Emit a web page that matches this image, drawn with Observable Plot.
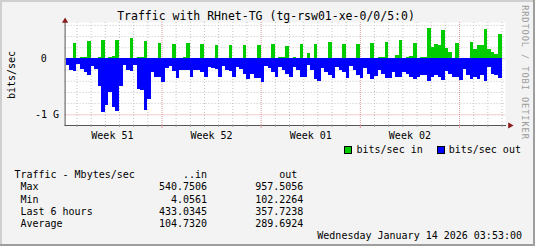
<!DOCTYPE html>
<html><head><meta charset="utf-8">
<script src="https://cdn.jsdelivr.net/npm/d3@7"></script>
<script src="https://cdn.jsdelivr.net/npm/@observablehq/plot@0.6"></script>
<style>
body{margin:0;background:#F3F3F3;}
#chart{position:relative;width:535px;height:246px;background:#F3F3F3;overflow:hidden;font-family:"DejaVu Sans Mono",monospace;font-size:10px;color:#000;box-sizing:border-box;}
#chart svg{position:absolute;left:0;top:0;overflow:visible;}
.t{position:absolute;white-space:pre;line-height:10px;}
.b{position:absolute;}
</style></head><body>
<div id="chart"></div>
<script>
// ---- texts ----
const title = "Traffic with RHnet-TG (tg-rsw01-xe-0/0/5:0)";
const yAxisLabel = "bits/sec";
const watermark = "RRDTOOL / TOBI OETIKER";
const dateLine = "Wednesday January 14 2026 03:53:00";

// ---- time ----
const viewStart = Date.UTC(2025, 11, 14, 3, 53);
const viewEnd = Date.UTC(2026, 0, 14, 3, 53);
const firstStep = Date.UTC(2025, 11, 14, 6);
const stepHours = 6;

// ---- series (Gbit/s, one value per 6 hours) ----
const inValues = [
0.015,0.015,0.28,0.015, 0.025,0.025,0.31,0.015, 0.015,0.025,0.33,0.015, 0.025,0.04,0.33,0.015,
0.015,0.015,0.37,0.015, 0.025,0.025,0.31,0.015, 0.015,0.015,0.28,0.015, 0.015,0.015,0.26,0.015,
0.015,0.03,0.28,0.015, 0.015,0.015,0.26,0.015, 0.015,0.015,0.24,0.015, 0.015,0.015,0.24,0.015,
0.015,0.015,0.24,0.015, 0.015,0.015,0.24,0.015, 0.015,0.015,0.26,0.015, 0.025,0.025,0.23,0.015,
0.03,0.015,0.26,0.015, 0.09,0.015,0.26,0.015, 0.015,0.015,0.3,0.015, 0.015,0.015,0.26,0.015,
0.015,0.015,0.26,0.015, 0.015,0.015,0.28,0.015, 0.025,0.025,0.3,0.015, 0.015,0.06,0.33,0.015,
0.025,0.04,0.28,0.015, 0.025,0.025,0.54,0.2, 0.26,0.24,0.51,0.19, 0.11,0.015,0.28,0.015,
0.015,0.015,0.29,0.17, 0.24,0.24,0.52,0.17, 0.12,0.08,0.433
];
const outValues = [
0.11,0.2,0.22,0.10, 0.19,0.24,0.3,0.14, 0.19,0.49,0.957,0.84, 0.61,0.87,0.95,0.49,
0.12,0.21,0.22,0.12, 0.54,0.57,0.93,0.72, 0.25,0.33,0.33,0.42, 0.18,0.13,0.22,0.35,
0.21,0.21,0.21,0.33, 0.21,0.21,0.25,0.33, 0.16,0.18,0.19,0.33, 0.14,0.21,0.23,0.33,
0.15,0.19,0.28,0.36, 0.27,0.35,0.35,0.42, 0.14,0.18,0.24,0.33, 0.16,0.2,0.28,0.33,
0.15,0.21,0.33,0.33, 0.12,0.21,0.37,0.40, 0.18,0.25,0.3,0.35, 0.15,0.21,0.25,0.35,
0.14,0.21,0.3,0.35, 0.18,0.27,0.36,0.31, 0.2,0.27,0.35,0.35, 0.25,0.33,0.34,0.24,
0.27,0.33,0.36,0.33, 0.29,0.29,0.40,0.34, 0.29,0.33,0.38,0.23, 0.27,0.33,0.34,0.38,
0.19,0.29,0.36,0.33, 0.36,0.29,0.40,0.15, 0.27,0.3,0.358
];

// ---- axes ----
const weekTickDates = [Date.UTC(2025,11,17,12), Date.UTC(2025,11,24,12), Date.UTC(2025,11,31,12), Date.UTC(2026,0,7,12)];
const weekLabels = ["Week 51", "Week 52", "Week 01", "Week 02"];
const yTickValues = [-1, 0];
const yTickLabels = ["-1 G", "0"];

// ---- legend & stats ----
const legendLabels = ["bits/sec in", "bits/sec out"];
const seriesColors = ["#00CC00", "#0000FF"];
const statsHeader = ["Traffic - Mbytes/sec", "..in", "out"];
const statLabels = ["Max", "Min", "Last 6 hours", "Average"];
const statIn = ["540.7506", "4.0561", "433.0345", "104.7320"];
const statOut = ["957.5056", "102.2264", "357.7238", "289.6924"];

// ---- build ----
const H = 3600e3;
const bars = inValues.map((v, i) => ({
  t0: new Date(firstStep + i * stepHours * H),
  t1: new Date(firstStep + (i + 1) * stepHours * H),
  vin: v,
  vout: -outValues[i]
}));
const allDays = d3.utcDay.range(new Date(viewStart), new Date(viewEnd));
const majorDays = allDays.filter(d => d.getUTCDay() === 0);
const minorDays = allDays.filter(d => d.getUTCDay() !== 0);
const gridY = d3.range(-5, 4).map(k => k * 0.2);
const majorY = gridY.filter(v => Math.abs(v) < 1e-9 || Math.abs(v + 1) < 1e-9);
const minorY = gridY.filter(v => !majorY.includes(v));
const weekMap = new Map(weekTickDates.map((t, i) => [t, weekLabels[i]]));
const yMap = new Map(yTickValues.map((v, i) => [v, yTickLabels[i]]));
const minorColor = "#c2c2c2", majorColor = "#e39a9a", arrowColor = "#8b1c1c";

const plot = Plot.plot({
  width: 535, height: 246,
  marginLeft: 64.6, marginRight: 30, marginTop: 22, marginBottom: 121,
  style: {background: "transparent", fontFamily: "DejaVu Sans Mono", fontSize: "10px", color: "#000"},
  x: {type: "utc", domain: [new Date(viewStart), new Date(Date.UTC(2026, 0, 14, 5, 53))]},
  y: {domain: [-1.192, 0.652]},
  marks: [
    Plot.frame({fill: "white", stroke: "none"}),
    Plot.ruleY(minorY, {stroke: minorColor, strokeDasharray: "1,2"}),
    Plot.ruleX(minorDays, {stroke: minorColor, strokeDasharray: "1,2"}),
    Plot.ruleY(majorY, {stroke: majorColor, strokeDasharray: "1,1"}),
    Plot.ruleX(majorDays, {stroke: majorColor, strokeDasharray: "1,1"}),
    Plot.rect(bars, {x1: "t0", x2: "t1", y1: 0, y2: "vin", fill: seriesColors[0], shapeRendering: "crispEdges"}),
    Plot.rect(bars, {x1: "t0", x2: "t1", y1: 0, y2: "vout", fill: seriesColors[1], shapeRendering: "crispEdges"}),
    Plot.frame({anchor: "left", stroke: "#555"}),
    Plot.frame({anchor: "bottom", stroke: "#555"}),
    Plot.axisX(majorDays, {tickSize: 3, stroke: majorColor, tickFormat: () => ""}),
    Plot.axisX(minorDays, {tickSize: 2, stroke: "#999", tickFormat: () => ""}),
    Plot.axisX(weekTickDates.map(t => new Date(t)), {tickSize: 0, tickPadding: 6, tickFormat: d => weekMap.get(+d), fontSize: 10, fill: "#000"}),
    Plot.axisY([yTickValues[0]], {tickSize: 0, tickPadding: 6, tickFormat: d => yMap.get(d), fontSize: 10, fill: "#000"}),
    Plot.axisY([yTickValues[1]], {tickSize: 0, tickPadding: 18.4, tickFormat: d => yMap.get(d), fontSize: 10, fill: "#000"}),
    Plot.dot([0], {frameAnchor: "top-left", symbol: "triangle", r: 2.3, fill: arrowColor, stroke: "none", dy: -1.5}),
    Plot.dot([0], {frameAnchor: "bottom-right", symbol: "triangle", r: 2.3, fill: arrowColor, stroke: "none", rotate: 90, dx: 4.5})
  ]
});

const chart = document.getElementById("chart");
chart.appendChild(plot);

function addText(txt, css) {
  const d = document.createElement("div");
  d.className = "t";
  d.textContent = txt;
  Object.assign(d.style, css);
  chart.appendChild(d);
  return d;
}
function addBox(css) {
  const d = document.createElement("div");
  d.className = "b";
  Object.assign(d.style, css);
  chart.appendChild(d);
}

// title
addText(title, {left: "0px", width: "532px", textAlign: "center", top: "11px", fontSize: "11.5px", lineHeight: "11.5px"});
// y label
addText(yAxisLabel, {left: "-18.5px", top: "70px", width: "60px", textAlign: "center", transform: "rotate(-90deg)"});
// watermark
addText(watermark, {left: (524 - 75) + "px", top: (72 - 4.5) + "px", width: "150px", height: "9px", textAlign: "center",
  fontSize: "8.6px", lineHeight: "9px", letterSpacing: "0.95px", color: "#9c9c9c", transform: "rotate(90deg)"});
// legend
const legendBoxLeft = [344, 436.5], legendTextLeft = [356.5, 448.7];
legendLabels.forEach((lab, i) => {
  addBox({left: legendBoxLeft[i] + "px", top: "146px", width: "8px", height: "8px", background: seriesColors[i], border: "1px solid #000", boxSizing: "border-box"});
  addText(lab, {left: legendTextLeft[i] + "px", top: "144.8px"});
});
// stats table
const lines = [statsHeader[0].padEnd(28) + statsHeader[1] + statsHeader[2].padStart(15)];
statLabels.forEach((lab, i) => {
  lines.push((" " + lab).padEnd(24) + statIn[i].padStart(8) + statOut[i].padStart(16));
});
addText(lines.join("\n"), {left: "14.4px", top: "169.1px", lineHeight: "12.25px"});
// date
addText(dateLine, {right: "13px", top: "231.3px"});
// 3D border
addBox({left: "0", top: "0", width: "535px", height: "2px", background: "#CFCFCF"});
addBox({left: "0", top: "0", width: "2px", height: "246px", background: "#CFCFCF"});
addBox({left: "0", top: "244px", width: "535px", height: "2px", background: "#9E9E9E"});
addBox({left: "533px", top: "0", width: "2px", height: "246px", background: "#9E9E9E"});
</script>
</body></html>
